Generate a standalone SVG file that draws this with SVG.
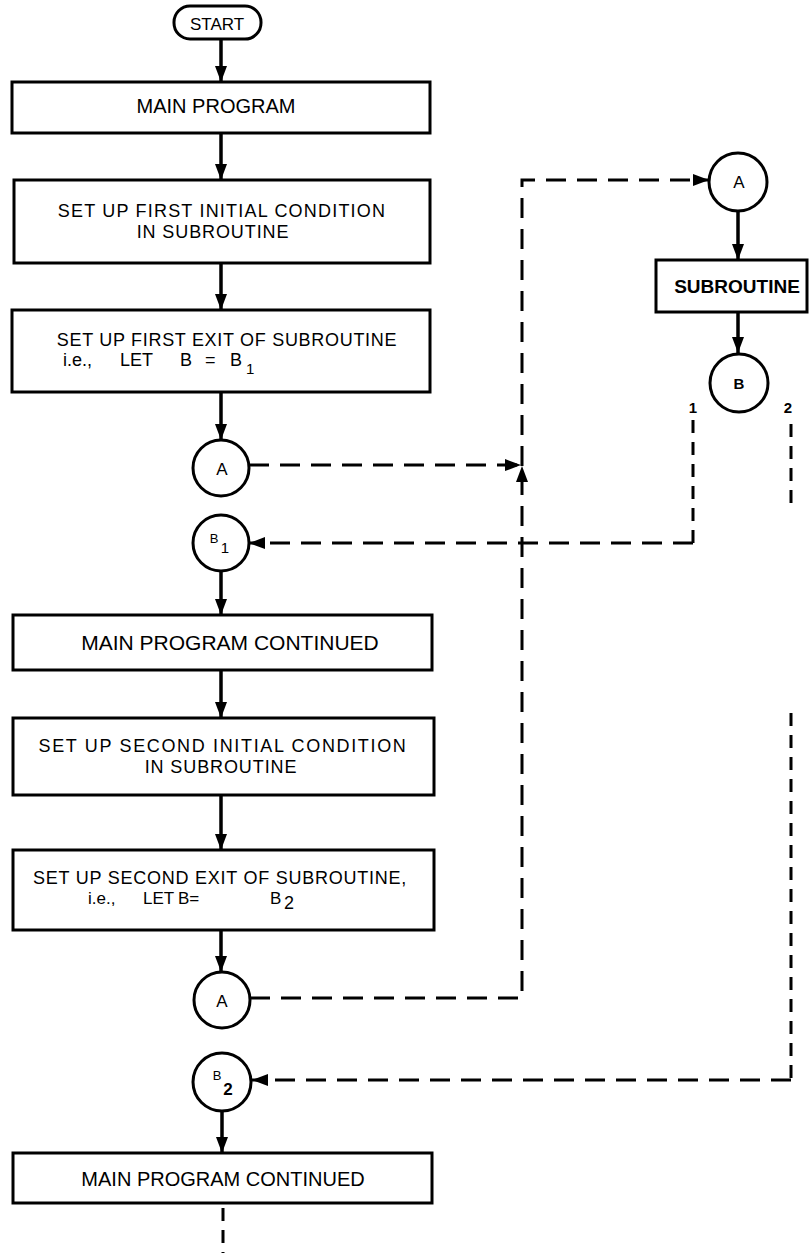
<svg xmlns="http://www.w3.org/2000/svg" width="809" height="1253" viewBox="0 0 809 1253">
<defs>
<marker id="ah" viewBox="0 0 16 12" refX="16" refY="6" markerWidth="16" markerHeight="12" markerUnits="userSpaceOnUse" orient="auto">
<path d="M0,0 L16,6 L0,12 z" fill="#000"/>
</marker>
<style>
.box{fill:#fff;stroke:#000;stroke-width:3}
.circ{fill:#fff;stroke:#000;stroke-width:3}
.t{font-family:"Liberation Sans",Arial,sans-serif;fill:#000;text-anchor:middle}
.l{font-family:"Liberation Sans",Arial,sans-serif;fill:#000}
.s{fill:none;stroke:#000;stroke-width:3.5}
.d{fill:none;stroke:#000;stroke-width:3;stroke-dasharray:20 11}
.ds{fill:none;stroke:#000;stroke-width:3;stroke-dasharray:13 9}
</style>
</defs>
<rect width="809" height="1253" fill="#fff"/>
<g id="connectors">
<path class="s" d="M221,39 V82" marker-end="url(#ah)"/>
<path class="s" d="M221,133 V180" marker-end="url(#ah)"/>
<path class="s" d="M221,263 V310" marker-end="url(#ah)"/>
<path class="s" d="M221,392 V440" marker-end="url(#ah)"/>
<path class="s" d="M221,571 V615" marker-end="url(#ah)"/>
<path class="s" d="M221,670 V718" marker-end="url(#ah)"/>
<path class="s" d="M221,795 V850" marker-end="url(#ah)"/>
<path class="s" d="M221,930 V972" marker-end="url(#ah)"/>
<path class="s" d="M222,1111 V1153" marker-end="url(#ah)"/>
<path class="s" d="M738,211 V260" marker-end="url(#ah)"/>
<path class="s" d="M738,312 V353" marker-end="url(#ah)"/>
<path class="d" d="M249,465 H521" marker-end="url(#ah)"/>
<path class="d" d="M250,998 H522 V466" marker-end="url(#ah)"/>
<path class="d" d="M522,466 V180 H709" marker-end="url(#ah)"/>
<path class="ds" d="M693,420 V543"/>
<path class="d" d="M693,543 H249" marker-end="url(#ah)"/>
<path class="ds" d="M791,424 V505"/>
<path class="ds" d="M791,713 V1080"/>
<path class="d" d="M791,1080 H252" marker-end="url(#ah)"/>
<path class="ds" d="M223,1208 V1253"/>
</g>
<g id="start">
<rect x="174" y="6" width="87" height="33" rx="16" class="box"/>
<text x="217" y="30" class="t" font-size="17">START</text>
</g>
<g id="main-program">
<rect x="12" y="82" width="418" height="51" class="box"/>
<text x="216" y="113" class="t" font-size="20">MAIN PROGRAM</text>
</g>
<g id="setup-first-initial">
<rect x="14" y="180" width="416" height="83" class="box"/>
<text x="222" y="217" class="t" font-size="18" letter-spacing="1.2">SET UP FIRST INITIAL CONDITION</text>
<text x="213" y="238" class="t" font-size="18" letter-spacing="0.9">IN SUBROUTINE</text>
</g>
<g id="setup-first-exit">
<rect x="12" y="310" width="418" height="82" class="box"/>
<text x="227" y="346" class="t" font-size="18" letter-spacing="0.7">SET UP FIRST EXIT OF SUBROUTINE</text>
<text x="63" y="366" class="l" font-size="18">i.e.,<tspan x="120">LET</tspan><tspan x="180">B</tspan><tspan x="205">=</tspan><tspan x="230">B</tspan><tspan x="246" dy="8" font-size="15">1</tspan></text>
</g>
<g id="circle-a1">
<circle cx="221" cy="468" r="28" class="circ"/>
<text x="222" y="475" class="t" font-size="17">A</text>
</g>
<g id="circle-b1">
<circle cx="221" cy="543" r="28" class="circ"/>
<text x="214" y="543" class="t" font-size="13">B</text>
<text x="225" y="553" class="t" font-size="15">1</text>
</g>
<g id="main-continued-1">
<rect x="13" y="615" width="419" height="55" class="box"/>
<text x="230" y="650" class="t" font-size="21">MAIN PROGRAM CONTINUED</text>
</g>
<g id="setup-second-initial">
<rect x="13" y="718" width="421" height="77" class="box"/>
<text x="223" y="752" class="t" font-size="18" letter-spacing="1.65">SET UP SECOND INITIAL CONDITION</text>
<text x="221" y="773" class="t" font-size="18" letter-spacing="0.9">IN SUBROUTINE</text>
</g>
<g id="setup-second-exit">
<rect x="13" y="850" width="421" height="80" class="box"/>
<text x="220" y="884" class="t" font-size="18" letter-spacing="0.75">SET UP SECOND EXIT OF SUBROUTINE,</text>
<text x="88" y="904" class="l" font-size="17">i.e.,<tspan x="143">LET</tspan><tspan x="178">B=</tspan><tspan x="270">B</tspan><tspan x="284" dy="5" font-size="18">2</tspan></text>
</g>
<g id="circle-a2">
<circle cx="222" cy="1000" r="28" class="circ"/>
<text x="222" y="1007" class="t" font-size="17">A</text>
</g>
<g id="circle-b2">
<circle cx="222" cy="1082" r="29" class="circ"/>
<text x="217" y="1080" class="t" font-size="13">B</text>
<text x="228" y="1095" class="t" font-size="17" font-weight="bold">2</text>
</g>
<g id="main-continued-2">
<rect x="13" y="1153" width="419" height="50" class="box"/>
<text x="223" y="1186" class="t" font-size="20">MAIN PROGRAM CONTINUED</text>
</g>
<g id="sub-a">
<circle cx="738" cy="182" r="29" class="circ"/>
<text x="739" y="188" class="t" font-size="17">A</text>
</g>
<g id="subroutine">
<rect x="656" y="260" width="151" height="52" class="box"/>
<text x="737" y="293" class="t" font-size="19" font-weight="bold">SUBROUTINE</text>
</g>
<g id="sub-b">
<circle cx="739" cy="383" r="29" class="circ"/>
<text x="739" y="389" class="t" font-size="15" font-weight="bold">B</text>
</g>
<g id="exit-labels">
<text x="693" y="413" class="t" font-size="15" font-weight="bold">1</text>
<text x="788" y="413" class="t" font-size="15" font-weight="bold">2</text>
</g>
</svg>
